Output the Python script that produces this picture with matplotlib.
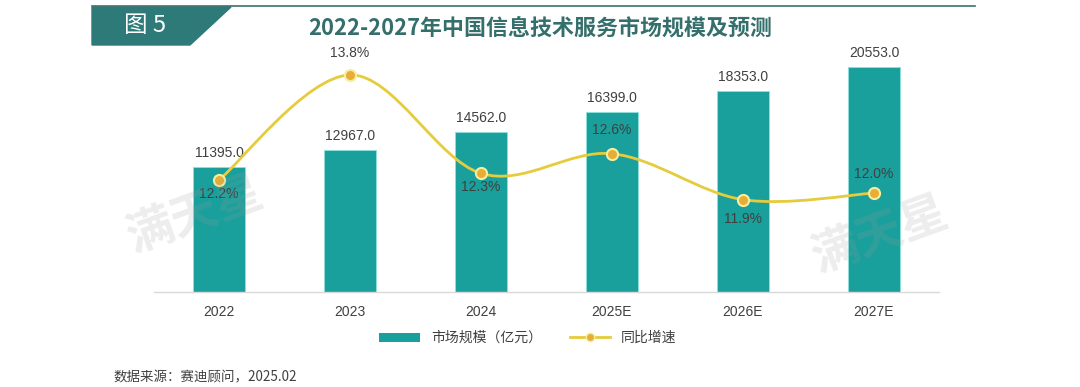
import numpy as np
import matplotlib
matplotlib.use('Agg')
import matplotlib.pyplot as plt
from matplotlib.path import Path
from matplotlib.patches import PathPatch, Polygon, Patch
from matplotlib.lines import Line2D

plt.rcParams['font.family'] = ['Liberation Sans', 'Noto Sans CJK SC', 'DejaVu Sans']
CJK = ['Noto Sans CJK SC', 'DejaVu Sans']

years = ['2022', '2023', '2024', '2025E', '2026E', '2027E']
market = [11395.0, 12967.0, 14562.0, 16399.0, 18353.0, 20553.0]
growth = [12.2, 13.8, 12.3, 12.6, 11.9, 12.0]
title = '2022-2027年中国信息技术服务市场规模及预测'
legend_labels = ['市场规模（亿元）', '同比增速']
source = '数据来源：赛迪顾问，2025.02'

# label offsets (points) for the growth labels: + above, - below
pct_dy = [-10, 16, -10, 17, -14, 14]

BAR = '#1aa09c'
LINE = '#e6cb3c'
TXT = '#404040'

W, H = 1080, 387
def fx(px):
    return px / W
def fy(py):
    return 1 - py / H

fig = plt.figure(figsize=(10.8, 3.87), dpi=100)
ax = fig.add_axes([fx(153.5), fy(292), 786 / W, 263 / H])

x = np.arange(len(years))
ax.bar(x, market, width=0.4, color=BAR, edgecolor='#8fe0dc', linewidth=0.6, zorder=2)
for i, v in enumerate(market):
    ax.annotate(f'{v:.1f}', (i, v), xytext=(0, 5), textcoords='offset points',
                ha='center', va='bottom', fontsize=10, color=TXT)

ax.set_xlim(-0.5, 5.5)
ax.set_ylim(0, 24000)
ax.set_xticks(x)
ax.set_xticklabels(years, fontsize=10, color=TXT)
ax.tick_params(axis='x', length=0, pad=9)
ax.set_yticks([])
for s in ['top', 'left', 'right']:
    ax.spines[s].set_visible(False)
ax.spines['bottom'].set_color('#d9d9d9')
ax.spines['bottom'].set_linewidth(1.0)

# growth line, smoothed with bezier segments (catmull-rom control points)
ax2 = ax.twinx()
ax2.set_ylim(10.493, 14.50)
ax2.axis('off')
pts = np.column_stack([x, growth]).astype(float)
verts = [pts[0]]
codes = [Path.MOVETO]
n = len(pts)
for i in range(n - 1):
    p0 = pts[max(i - 1, 0)]
    p1 = pts[i]
    p2 = pts[i + 1]
    p3 = pts[min(i + 2, n - 1)]
    c1 = p1 + (p2 - p0) / 6
    c2 = p2 - (p3 - p1) / 6
    verts += [c1, c2, p2]
    codes += [Path.CURVE4] * 3
ax2.add_patch(PathPatch(Path(verts, codes), facecolor='none', edgecolor=LINE,
                        lw=2, zorder=3))
ax2.plot(x, growth, 'o', ms=8, mfc='#e9ad35', mec='#f4eea0', mew=1.5, zorder=4)
for i, v in enumerate(growth):
    ax2.annotate(f'{v:.1f}%', (i, v), xytext=(0, pct_dy[i]), textcoords='offset points',
                 ha='center', va='center', fontsize=10, color=TXT, zorder=5)

# header banner
fig.add_artist(Line2D([fx(92), fx(975)], [fy(6), fy(6)], transform=fig.transFigure,
                      color='#3b6f6c', lw=1.2))
fig.add_artist(Polygon([(fx(92), fy(7)), (fx(231), fy(7)), (fx(190), fy(45)), (fx(92), fy(45))],
                       closed=True, transform=fig.transFigure, color='#2e7a78'))
fig.text(fx(145), fy(26), '图 5', ha='center', va='center', fontsize=17, color='white', family=CJK)
fig.text(fx(540), fy(28), title, ha='center', va='center', fontsize=15.8, color='#346f6c',
         weight='bold', family=CJK)

# watermarks
for wx, wy in [(195, 215), (880, 235)]:
    fig.text(fx(wx), fy(wy), '满天星', ha='center', va='center', rotation=20, fontsize=34,
             color='#9a9a9a', alpha=0.18, weight='bold', family=CJK, zorder=10)

handles = [Patch(facecolor=BAR),
           Line2D([], [], color=LINE, lw=2, marker='o', ms=6, mfc='#e9ad35', mec='#f4eea0')]
fig.legend(handles, legend_labels, loc='center', bbox_to_anchor=(fx(528), fy(338)), ncol=2,
           frameon=False, handlelength=2.9, handleheight=0.6, columnspacing=2.0,
           labelcolor=TXT, prop={'family': CJK, 'size': 10})

fig.text(fx(113), fy(377), source, ha='left', va='center', fontsize=9.7, color=TXT, family=CJK)

fig.savefig('out.png', dpi=100)
